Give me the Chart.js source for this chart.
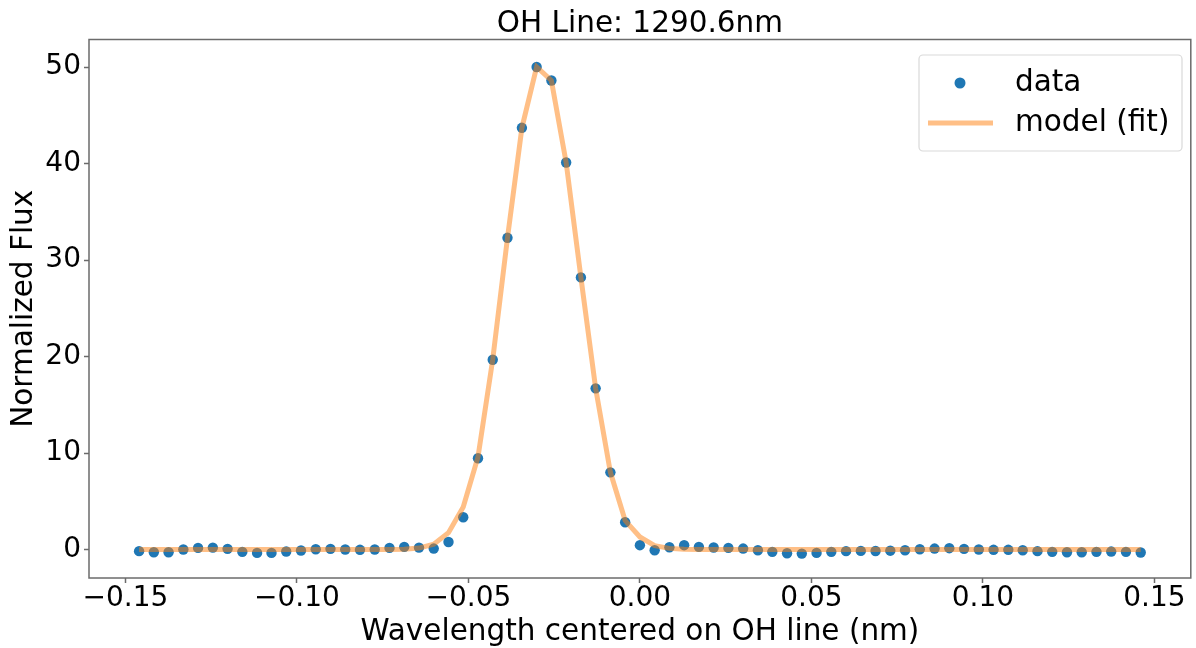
<!DOCTYPE html>
<html>
<head>
<meta charset="utf-8">
<script src="https://cdn.jsdelivr.net/npm/chart.js@4/dist/chart.umd.min.js"></script>
<style>
  html, body { margin: 0; padding: 0; background: #fff; }
  #wrap { width: 1196px; height: 648px; }
</style>
</head>
<body>
<div id="wrap"><canvas id="ohChart"></canvas></div>
<script>
// wavelength offsets (nm) of each sample
var wavelength = [
    -0.1460, -0.1417, -0.1374, -0.1331, -0.1288, -0.1245, -0.1202, -0.1159, -0.1116, -0.1074,
    -0.1031, -0.0988, -0.0945, -0.0902, -0.0859, -0.0816, -0.0773, -0.0730, -0.0687, -0.0644,
    -0.0601, -0.0558, -0.0515, -0.0472, -0.0429, -0.0386, -0.0344, -0.0301, -0.0258, -0.0215,
    -0.0172, -0.0129, -0.0086, -0.0043, 0.0000, 0.0043, 0.0086, 0.0129, 0.0172, 0.0215,
    0.0258, 0.0301, 0.0344, 0.0386, 0.0429, 0.0472, 0.0515, 0.0558, 0.0601, 0.0644,
    0.0687, 0.0730, 0.0773, 0.0816, 0.0859, 0.0902, 0.0945, 0.0988, 0.1031, 0.1074,
    0.1116, 0.1159, 0.1202, 0.1245, 0.1288, 0.1331, 0.1374, 0.1417, 0.1460
];
// measured normalized flux
var fluxData = [
    -0.17, -0.28, -0.28, 0.00, 0.17, 0.20, 0.07, -0.24, -0.35, -0.35,
    -0.20, -0.10, 0.03, 0.07, 0.00, -0.03, 0.00, 0.17, 0.28, 0.20,
    0.10, 0.78, 3.35, 9.46, 19.66, 32.3, 43.7, 50.0, 48.6, 40.1,
    28.2, 16.7, 8.0, 2.83, 0.45, -0.07, 0.24, 0.45, 0.28, 0.21,
    0.17, 0.10, -0.07, -0.24, -0.38, -0.42, -0.35, -0.24, -0.17, -0.14,
    -0.15, -0.12, -0.07, 0.03, 0.10, 0.14, 0.07, 0.00, -0.03, -0.03,
    -0.07, -0.17, -0.24, -0.28, -0.28, -0.24, -0.21, -0.24, -0.31
];
// fitted model at the same wavelengths
var fluxModel = [
    0.00, 0.00, 0.00, 0.00, 0.00, 0.00, 0.00, 0.00, 0.00, 0.00,
    0.00, 0.00, 0.00, 0.00, 0.00, 0.00, 0.00, 0.00, 0.03, 0.15,
    0.55, 1.75, 4.4, 9.6, 19.7, 32.3, 43.7, 50.0, 48.6, 40.1,
    28.2, 16.7, 8.0, 3.0, 1.3, 0.40, 0.12, 0.03, 0.00, 0.00,
    0.00, 0.00, 0.00, 0.00, 0.00, 0.00, 0.00, 0.00, 0.00, 0.00,
    0.00, 0.00, 0.00, 0.00, 0.00, 0.00, 0.00, 0.00, 0.00, 0.00,
    0.00, 0.00, 0.00, 0.00, 0.00, 0.00, 0.00, 0.00, 0.00
];
var xTicks = [-0.15, -0.10, -0.05, 0.00, 0.05, 0.10, 0.15];
var yTicks = [0, 10, 20, 30, 40, 50];

var FONT = 'DejaVu Sans';
var AXIS_COLOR = '#6b6b6b';

function toPoints(xs, ys) {
    return xs.map(function (x, i) { return { x: x, y: ys[i] }; });
}

// draws the box round the axes and the legend box in the top right corner
var framePlugin = {
    id: 'frameAndLegend',
    afterDraw: function (chart) {
        var ctx = chart.ctx;
        var a = chart.chartArea;
        ctx.save();
        ctx.strokeStyle = AXIS_COLOR;
        ctx.lineWidth = 1.5;
        ctx.strokeRect(a.left, a.top, a.right - a.left, a.bottom - a.top);

        var ds = chart.data.datasets;
        var bx = 919, by = 55, bw = 263, bh = 96;
        ctx.beginPath();
        ctx.roundRect(bx, by, bw, bh, 4);
        ctx.fillStyle = 'rgba(255,255,255,0.8)';
        ctx.fill();
        ctx.strokeStyle = '#d9d9d9';
        ctx.lineWidth = 1.2;
        ctx.stroke();

        ctx.fillStyle = ds[0].backgroundColor;
        ctx.beginPath();
        ctx.arc(960, 83, 5.5, 0, Math.PI * 2);
        ctx.fill();

        ctx.strokeStyle = ds[1].borderColor;
        ctx.lineWidth = 5;
        ctx.beginPath();
        ctx.moveTo(928, 123);
        ctx.lineTo(993, 123);
        ctx.stroke();

        ctx.fillStyle = '#000';
        ctx.font = '29.5px "' + FONT + '"';
        ctx.textAlign = 'left';
        ctx.textBaseline = 'alphabetic';
        ctx.fillText(ds[0].label, 1015, 90.5);
        ctx.fillText(ds[1].label, 1015, 131);
        ctx.restore();
    }
};

var ctx = document.getElementById('ohChart').getContext('2d');
var ohChart = new Chart(ctx, {
    type: 'scatter',
    data: {
        datasets: [{
            label: 'data',
            data: toPoints(wavelength, fluxData),
            backgroundColor: '#1f77b4',
            borderColor: '#1f77b4',
            pointRadius: 5.2,
            pointBorderWidth: 0,
            showLine: false,
            order: 2,
        }, {
            label: 'model (fit)',
            data: toPoints(wavelength, fluxModel),
            borderColor: 'rgba(255,127,14,0.5)',
            backgroundColor: 'rgba(255,127,14,0.5)',
            borderWidth: 5,
            pointRadius: 0,
            showLine: true,
            tension: 0,
            order: 1,
        }],
    },
    options: {
        responsive: true,
        maintainAspectRatio: false,
        animation: false,
        layout: {
            padding: { left: 0, right: 2, top: 0, bottom: 0 },
        },
        plugins: {
            legend: { display: false },
            tooltip: { enabled: false },
            title: {
                display: true,
                text: 'OH Line: 1290.6nm',
                fullSize: false,
                color: '#000',
                font: { family: FONT, size: 29.5, weight: 'normal', lineHeight: 1 },
                padding: { top: 10, bottom: 0 },
            },
        },
        scales: {
            x: {
                type: 'linear',
                min: -0.1606,
                max: 0.1606,
                afterFit: function (s) { s.height = 70; },
                afterBuildTicks: function (s) {
                    s.ticks = xTicks.map(function (v) { return { value: v }; });
                },
                grid: {
                    drawOnChartArea: false,
                    drawTicks: true,
                    tickLength: 5,
                    tickColor: AXIS_COLOR,
                    tickWidth: 1.5,
                },
                border: { display: false },
                ticks: {
                    autoSkip: false,
                    maxRotation: 0,
                    padding: 2,
                    color: '#000',
                    font: { family: FONT, size: 28, lineHeight: 1 },
                    callback: function (v) {
                        return (v < -1e-9 ? '\u2212' : '') + Math.abs(v).toFixed(2);
                    },
                },
                title: {
                    display: true,
                    text: 'Wavelength centered on OH line (nm)',
                    color: '#000',
                    font: { family: FONT, size: 29.5, lineHeight: 1 },
                    padding: { top: 0, bottom: 0.5 },
                },
            },
            y: {
                type: 'linear',
                min: -2.95,
                max: 52.85,
                afterFit: function (s) { s.width = 89; },
                afterBuildTicks: function (s) {
                    s.ticks = yTicks.map(function (v) { return { value: v }; });
                },
                grid: {
                    drawOnChartArea: false,
                    drawTicks: true,
                    tickLength: 5,
                    tickColor: AXIS_COLOR,
                    tickWidth: 1.5,
                },
                border: { display: false },
                ticks: {
                    padding: 3,
                    color: '#000',
                    font: { family: FONT, size: 28, lineHeight: 1 },
                    callback: function (v) { return String(v); },
                },
                title: {
                    display: true,
                    text: 'Normalized Flux',
                    color: '#000',
                    font: { family: FONT, size: 29.5, lineHeight: 1 },
                    padding: { top: 9.5, bottom: 0 },
                },
            },
        },
    },
    plugins: [framePlugin],
});
</script>
</body>
</html>
